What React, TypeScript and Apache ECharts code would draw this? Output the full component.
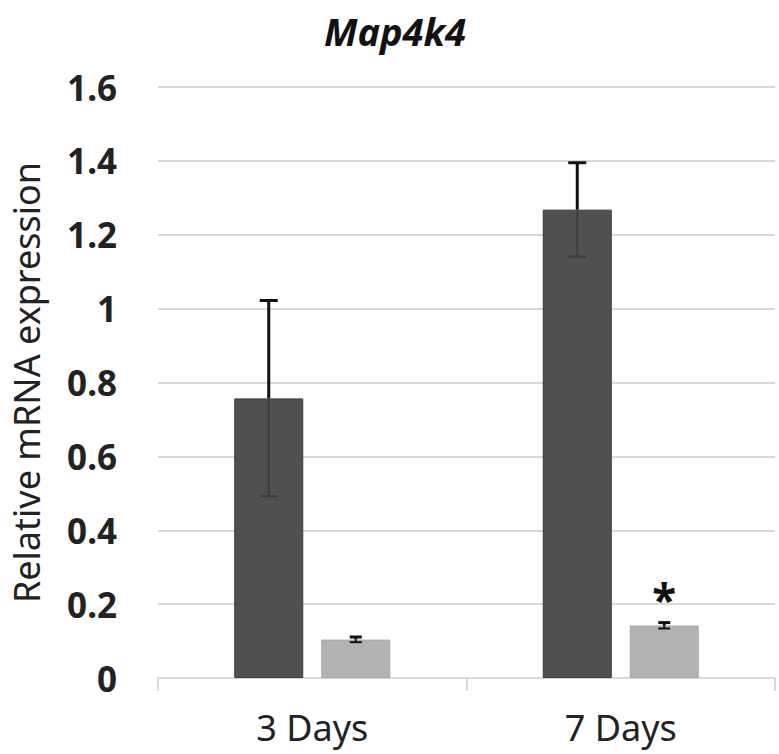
import React, { useEffect, useRef } from "react";
import * as echarts from "echarts";

const categories = ["3 Days", "7 Days"];
const yTicks = [0, 0.2, 0.4, 0.6, 0.8, 1, 1.2, 1.4, 1.6];
const darkValues = [0.757, 1.268];
const darkErrors = [0.265, 0.127];
const lightValues = [0.104, 0.142];
const lightErrors = [0.007, 0.008];
const significance = ["", "*"];

const BAR_W = 69;
const GAP = 18;

export default function App() {
  const ref = useRef<HTMLDivElement>(null);
  useEffect(() => {
    document.body.style.margin = "0";
    const chart = echarts.init(ref.current!, null, { renderer: "svg" });
    const font = "'Noto Sans', 'Open Sans', sans-serif";

    const errSeries = (values: number[], errors: number[], sign: number, capW: number, lowColor: string, name: string) => ({
      type: "custom",
      name,
      z: 10,
      data: values.map((v, i) => [i, v, errors[i]]),
      renderItem: (params: any, api: any) => {
        const i = api.value(0);
        const v = api.value(1);
        const e = api.value(2);
        const c = api.coord([i, v]);
        const hi = api.coord([i, v + e]);
        const lo = api.coord([i, v - e]);
        const x = c[0] + sign * (BAR_W + GAP) / 2;
        return {
          type: "group",
          children: [
            { type: "line", shape: { x1: x, y1: hi[1], x2: x, y2: c[1] }, style: { stroke: "#111", lineWidth: 3 } },
            { type: "line", shape: { x1: x, y1: c[1], x2: x, y2: lo[1] }, style: { stroke: lowColor, lineWidth: 2 } },
            { type: "line", shape: { x1: x - capW / 2, y1: hi[1], x2: x + capW / 2, y2: hi[1] }, style: { stroke: "#111", lineWidth: 3 } },
            { type: "line", shape: { x1: x - capW / 2, y1: lo[1], x2: x + capW / 2, y2: lo[1] }, style: { stroke: lowColor, lineWidth: 2 } },
          ],
        };
      },
    });

    chart.setOption({
      animation: false,
      title: {
        text: "Map4k4",
        left: 390,
        textAlign: "center",
        top: 3,
        textStyle: { fontFamily: font, fontStyle: "italic", fontWeight: "bold", fontSize: 38, color: "#111", lineHeight: 46 },
      },
      grid: { left: 158, right: 4, top: 87, bottom: 76, outerBoundsMode: "none", containLabel: false },
      xAxis: {
        type: "category",
        data: categories,
        axisLine: { lineStyle: { color: "#d9d9d9", width: 2 } },
        axisTick: { show: true, length: 13, lineStyle: { color: "#d9d9d9", width: 2 } },
        axisLabel: { fontFamily: font, fontSize: 36, color: "#222", margin: 31 },
      },
      yAxis: {
        type: "value",
        min: 0,
        max: 1.6,
        interval: 0.2,
        name: "Relative mRNA expression",
        nameLocation: "middle",
        nameGap: 114,
        nameTextStyle: { fontFamily: font, fontSize: 36, color: "#222", lineHeight: 36 },
        axisLine: { show: false },
        axisTick: { show: false },
        axisLabel: {
          fontFamily: font,
          fontSize: 35,
          fontWeight: "bold",
          color: "#222",
          margin: 41,
          formatter: (v: number) => {
            const t = yTicks.find((k) => Math.abs(k - v) < 1e-6);
            return String(t !== undefined ? t : Math.round(v * 10) / 10);
          },
        },
        splitLine: { lineStyle: { color: "#d9d9d9", width: 2 } },
      },
      series: [
        {
          type: "bar",
          name: "Group A",
          data: darkValues,
          barWidth: BAR_W,
          barGap: (GAP / BAR_W) * 100 + "%",
          itemStyle: { color: "#505050", borderColor: "#3a3a3a", borderWidth: 1 },
        },
        {
          type: "bar",
          name: "Group B",
          data: lightValues,
          barWidth: BAR_W,
          itemStyle: { color: "#b3b3b3", borderColor: "#a8a8a8", borderWidth: 1 },
        },
        errSeries(darkValues, darkErrors, -1, 18, "#3c3c3c", "Error A"),
        errSeries(lightValues, lightErrors, 1, 12, "#111", "Error B"),
        {
          type: "custom",
          name: "Significance",
          z: 11,
          data: lightValues.map((v, i) => [i, v + lightErrors[i], significance[i]]),
          renderItem: (params: any, api: any) => {
            const i = api.value(0);
            const label = significance[i];
            if (!label) return null;
            const c = api.coord([i, api.value(1)]);
            const x = c[0] + (BAR_W + GAP) / 2;
            return {
              type: "text",
              style: {
                text: label,
                x,
                y: c[1] - 2,
                align: "center",
                verticalAlign: "bottom",
                fontFamily: font,
                fontSize: 44,
                fontWeight: "bold",
                fill: "#111",
              },
            };
          },
        },
      ],
    });
    return () => chart.dispose();
  }, []);
  return <div ref={ref} style={{ position: "absolute", left: 0, top: 0, width: 779, height: 754 }} />;
}
